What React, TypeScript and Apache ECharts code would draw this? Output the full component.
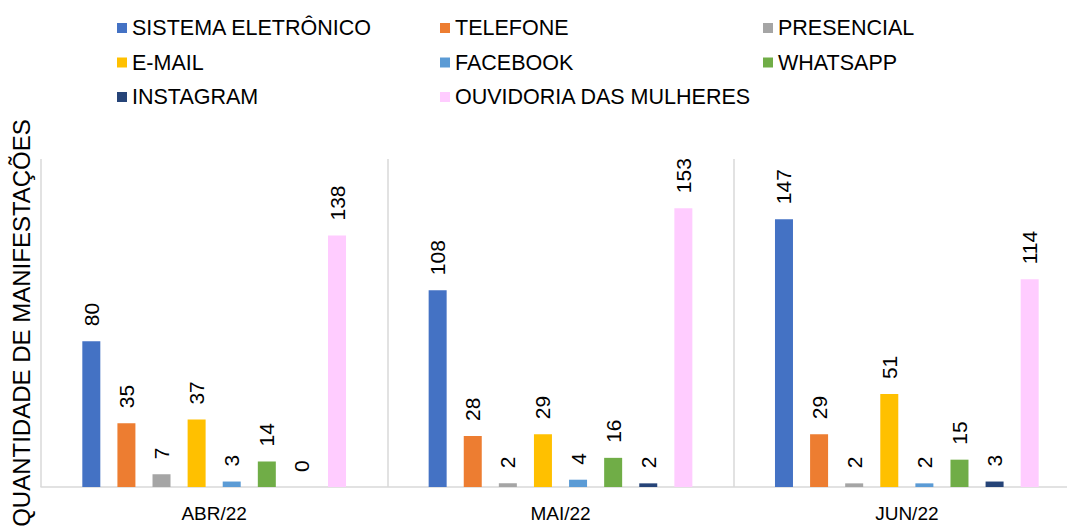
import React, { useEffect, useRef } from "react";
import * as echarts from "echarts";

const months = ["ABR/22", "MAI/22", "JUN/22"];
const seriesNames = [
  "SISTEMA ELETRÔNICO",
  "TELEFONE",
  "PRESENCIAL",
  "E-MAIL",
  "FACEBOOK",
  "WHATSAPP",
  "INSTAGRAM",
  "OUVIDORIA DAS MULHERES",
];
const sistemaEletronico = [80, 108, 147];
const telefone = [35, 28, 29];
const presencial = [7, 2, 2];
const email = [37, 29, 51];
const facebook = [3, 4, 2];
const whatsapp = [14, 16, 15];
const instagram = [0, 2, 3];
const ouvidoria = [138, 153, 114];
const seriesValues = [sistemaEletronico, telefone, presencial, email, facebook, whatsapp, instagram, ouvidoria];
const colors = ["#4472C4", "#ED7D31", "#A5A5A5", "#FFC000", "#5B9BD5", "#70AD47", "#264478", "#FFCCFF"];

const FONT = "'Liberation Sans', Arial, sans-serif";

export default function App() {
  const ref = useRef<HTMLDivElement>(null);
  useEffect(() => {
    if (!ref.current) return;
    const chart = echarts.init(ref.current, null, { renderer: "svg" });
    const legendBase = {
      orient: "vertical" as const,
      top: 16,
      padding: 0,
      itemWidth: 10,
      itemHeight: 10,
      itemGap: 10.5,
      icon: "rect",
      textStyle: { fontSize: 21.5, fontFamily: FONT, color: "#000", lineHeight: 24 },
    };
    chart.setOption({
      animation: false,
      color: colors,
      legend: [
        { ...legendBase, left: 117, data: [seriesNames[0], seriesNames[3], seriesNames[6]] },
        { ...legendBase, left: 440, data: [seriesNames[1], seriesNames[4], seriesNames[7]] },
        { ...legendBase, left: 763, data: [seriesNames[2], seriesNames[5]] },
      ],
      grid: {
        left: 41,
        top: 159,
        width: 1039,
        height: 328,
        containLabel: false,
        outerBoundsMode: "none",
      },
      xAxis: {
        type: "category",
        data: months,
        axisLine: { lineStyle: { color: "#D9D9D9", width: 1.5 } },
        axisTick: { show: false },
        axisLabel: { fontSize: 19, fontFamily: FONT, color: "#000", margin: 17 },
        splitLine: { show: true, lineStyle: { color: "#D9D9D9", width: 1.5 } },
      },
      yAxis: {
        type: "value",
        min: 0,
        max: 180,
        axisLine: { show: false },
        axisTick: { show: false },
        axisLabel: { show: false },
        splitLine: { show: false },
        name: "QUANTIDADE DE MANIFESTAÇÕES",
        nameLocation: "middle",
        nameRotate: 90,
        nameGap: 8,
        nameTextStyle: { fontSize: 24, fontFamily: FONT, color: "#000" },
      },
      series: seriesNames.map((name, i) => ({
        name,
        type: "bar",
        data: seriesValues[i],
        barWidth: 18,
        barGap: "95%",
        itemStyle: { color: colors[i] },
        label: {
          show: true,
          position: "top",
          rotate: 90,
          align: "left",
          verticalAlign: "middle",
          distance: 15,
          fontSize: 21,
          fontFamily: FONT,
          color: "#000",
        },
      })),
    });
    return () => chart.dispose();
  }, []);
  return (
    <div
      ref={ref}
      style={{ position: "fixed", left: 0, top: 0, width: 1067, height: 527, background: "#fff" }}
    />
  );
}
